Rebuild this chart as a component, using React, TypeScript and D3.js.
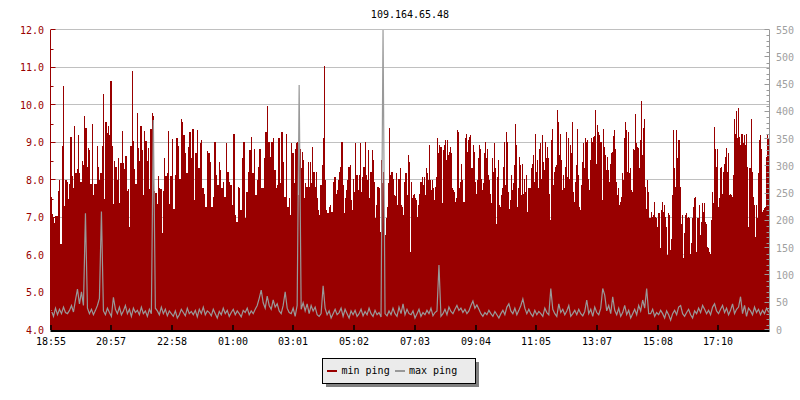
import React from 'react';
import * as d3 from 'd3';

const TITLE = '109.164.65.48';
const X_TICK_LABELS = ['18:55', '20:57', '22:58', '01:00', '03:01', '05:02', '07:03', '09:04', '11:05', '13:07', '15:08', '17:10'];
const X_TICK_STEP_MIN = 121.6;
const DAY_MINUTES = 1440;
const SEGMENT_MINUTES = 240;
const LEFT_MAJOR = [4, 5, 6, 7, 8, 9, 10, 11, 12];
const LEFT_MINOR = [4.5, 5.5, 6.5, 7.5, 8.5, 9.5, 10.5, 11.5];
const RIGHT_MAJOR = [0, 50, 100, 150, 200, 250, 300, 350, 400, 450, 500, 550];
const LEGEND = ['min ping', 'max ping'];

// min ping (ms, left axis), six consecutive 4-hour segments
const minPing1 = [7.55, 7.1, 7.0, 6.85, 7.05, 7.05, 7.7, 8.0, 6.3, 8.9, 10.5, 7.3, 8.0, 7.95, 7.5, 7.9, 9.15, 8.1, 7.8, 9.45, 8.2, 8.3, 9.2, 8.2, 7.95, 8.5, 8.4, 9.7, 9.4, 8.35, 8.85, 8.8, 7.9, 9.5, 7.6, 7.9, 7.9, 8.9, 8.35, 8.0, 8.2, 8.9, 10.3, 7.5, 9.55, 9.25, 9.45, 9.2, 10.65, 8.9, 7.35, 8.5, 8.35, 8.0, 8.6, 7.4, 8.45, 9.3, 8.45, 8.3, 8.65, 7.7, 7.75, 6.75, 8.9, 10.9, 9.05, 8.3, 7.9, 9.8, 8.85, 8.5, 9.45, 8.8, 7.6, 9.3, 9.05, 8.5, 8.85, 7.75, 9.35, 9.8, 9.7, 7.7, 7.65, 7.35, 8.1, 7.8, 7.75, 6.6, 7.7, 8.6, 8.1, 8.2, 9.3, 7.35];
const minPing2 = [8.1, 9.1, 7.24, 8.13, 9.11, 8.9, 8.04, 9.64, 9.56, 9.2, 8.71, 8.2, 8.89, 9.29, 8.58, 9.36, 7.47, 8.71, 9.33, 8.31, 8.98, 9.07, 7.78, 7.64, 7.29, 8.77, 8.71, 8.49, 7.29, 7.56, 9.02, 8.13, 7.87, 8.49, 8.27, 7.78, 7.96, 7.56, 8.98, 8.22, 7.96, 7.87, 7.33, 9.24, 7.07, 6.89, 7.82, 7.78, 7.2, 8.58, 9.02, 6.98, 7.69, 8.22, 8.8, 9.16, 8.18, 8.84, 7.6, 8.0, 8.36, 8.84, 7.78, 7.78, 8.58, 9.29, 9.98, 9.02, 8.62, 9.02, 9.11, 8.27, 7.78, 7.87, 9.11, 7.91, 9.29, 8.49, 7.56, 9.24, 7.29, 7.51];
const minPing3 = [7.07, 8.98, 8.71, 7.91, 8.84, 8.98, 9.02, 7.6, 8.84, 8.31, 8.75, 8.53, 7.51, 7.91, 7.82, 8.49, 7.82, 8.49, 7.91, 8.89, 8.22, 7.82, 8.22, 7.51, 7.2, 7.07, 7.87, 8.4, 9.11, 11.05, 8.0, 7.2, 7.11, 7.29, 7.33, 7.16, 7.16, 7.96, 8.09, 7.64, 7.73, 8.0, 8.22, 8.36, 9.02, 7.87, 7.11, 7.51, 7.73, 8.0, 8.36, 8.4, 7.47, 7.2, 8.04, 7.69, 8.98, 8.13, 7.73, 8.13, 8.98, 7.69, 8.09, 8.36, 9.02, 8.13, 8.0, 8.8, 7.51, 8.22, 8.8, 8.53, 7.96, 6.98, 7.33, 7.82, 7.78, 6.62, 8.53, 7.91, 8.22, 6.53, 6.98, 7.29, 7.91, 9.38, 8.13, 8.22, 8.04, 7.6, 7.58, 8.18, 7.33, 8.04, 8.31, 7.33, 7.29, 7.07, 7.96, 8.18, 7.6, 8.67, 8.49];
const minPing4 = [6.09, 7.96, 7.51, 7.6, 7.64, 7.51, 7.47, 7.02, 7.33, 7.64, 7.96, 7.96, 8.09, 7.87, 8.09, 7.6, 8.31, 8.18, 8.0, 8.93, 8.0, 7.73, 8.0, 7.78, 7.47, 7.82, 8.09, 9.11, 8.71, 8.93, 8.89, 8.89, 7.38, 8.8, 8.93, 9.07, 8.53, 9.07, 8.67, 8.75, 8.89, 8.71, 7.78, 7.73, 7.69, 7.42, 7.51, 9.33, 9.29, 7.78, 7.96, 8.44, 8.0, 7.42, 7.42, 9.11, 9.24, 8.75, 9.07, 9.16, 9.2, 8.31, 8.31, 8.93, 8.75, 7.96, 7.64, 8.0, 8.58, 8.93, 8.84, 8.04, 7.73, 7.91, 8.71, 9.02, 8.58, 8.84, 8.13, 8.0, 7.64, 7.38, 8.58, 8.22, 8.98, 8.31, 6.84, 8.09, 8.53, 7.33, 7.29, 7.6, 7.78, 8.36, 9.02, 7.87, 9.29, 9.02, 7.69, 7.24, 7.47, 8.13, 7.73, 7.91, 8.4, 9.49, 8.93, 7.29, 7.78, 8.62, 8.4, 7.6, 8.44, 7.64, 8.04, 7.69, 8.13, 7.16, 7.78, 7.78];
const minPing5 = [7.78, 8.31, 8.44, 8.67, 7.96, 9.24, 8.22, 8.53, 7.78, 8.82, 8.98, 8.04, 9.2, 8.49, 8.27, 9.02, 8.58, 8.89, 8.58, 7.64, 6.93, 9.07, 9.36, 7.87, 8.22, 8.36, 8.4, 9.87, 9.56, 8.67, 9.24, 8.53, 7.73, 8.13, 7.78, 8.36, 9.29, 8.09, 9.11, 8.04, 8.93, 8.71, 9.56, 7.69, 7.42, 7.96, 8.4, 9.36, 8.13, 7.29, 7.2, 7.87, 8.49, 8.98, 8.31, 9.11, 9.02, 9.07, 8.04, 7.73, 8.53, 9.11, 9.02, 9.16, 9.18, 9.87, 8.44, 9.47, 9.29, 9.2, 9.02, 9.02, 7.47, 9.36, 8.89, 8.67, 8.27, 8.62, 8.27, 7.96, 8.44, 8.71, 8.75, 9.17, 9.33, 8.84, 7.96, 7.6, 7.78, 7.33, 7.42, 7.56, 8.18, 8.0, 9.11, 9.56, 9.33, 8.22, 9.29, 8.18, 8.31, 7.73, 7.69, 8.84, 8.8, 9.75, 8.98, 8.89, 8.86, 8.31, 9.07, 10.1, 8.67, 9.38, 9.62, 7.82, 7.24, 8.0, 7.69, 6.98];
const minPing6 = [6.98, 7.16, 7.02, 7.07, 7.42, 7.02, 6.98, 6.76, 7.11, 7.11, 6.18, 7.2, 7.42, 7.16, 7.33, 7.02, 6.76, 6.0, 7.11, 7.07, 6.13, 6.44, 7.6, 9.33, 8.31, 7.82, 9.33, 8.58, 9.07, 9.07, 7.82, 6.84, 7.07, 5.91, 6.58, 7.07, 7.11, 6.98, 7.02, 6.98, 6.04, 6.31, 6.98, 7.29, 7.51, 7.56, 6.09, 6.98, 6.98, 7.33, 6.53, 6.89, 7.38, 7.16, 7.38, 6.89, 6.84, 6.22, 6.18, 6.09, 6.04, 6.93, 7.69, 7.38, 9.42, 8.84, 8.36, 8.84, 7.29, 7.51, 8.31, 8.36, 7.64, 8.22, 8.44, 8.62, 8.86, 8.22, 8.71, 7.6, 7.64, 7.6, 7.56, 8.13, 9.64, 9.24, 9.84, 9.11, 9.91, 9.16, 8.93, 9.22, 9.24, 8.98, 9.2, 8.93, 9.22, 8.36, 6.76, 8.31, 8.31, 9.64, 8.22, 7.56, 7.33, 6.49, 7.33, 6.98, 8.18, 9.07, 9.2, 8.84, 7.16, 7.2, 7.26, 7.29, 8.62, 9.2, 9.11];

// max ping (ms, right axis), same six segments
const maxPing1 = [35, 25, 40, 28, 38, 30, 42, 32, 30, 36, 45, 33, 55, 75, 48, 70, 45, 214, 40, 30, 38, 28, 36, 45, 58, 217, 35, 28, 40, 32, 25, 60, 38, 30, 42, 28, 35, 45, 30, 38, 25, 40, 32, 36, 28, 42, 30, 35, 25, 38, 30, 385, 40, 35, 28, 42, 30, 38, 26, 35];
const maxPing2 = [30, 25, 35, 22, 28, 38, 32, 26, 40, 30, 34, 28, 36, 24, 38, 30, 42, 28, 35, 32, 26, 38, 30, 22, 34, 28, 40, 30, 36, 25, 32, 38, 28, 35, 30, 24, 36, 32, 40, 28, 35, 30, 38, 45, 58, 73, 50, 40, 62, 45, 38, 55, 42, 48, 35, 30, 45, 70, 40, 32];
const maxPing3 = [30, 40, 25, 45, 449, 38, 50, 35, 48, 30, 45, 35, 42, 28, 25, 30, 81, 40, 28, 35, 22, 30, 38, 28, 32, 40, 25, 38, 30, 22, 35, 28, 36, 25, 30, 38, 26, 34, 28, 40, 30, 25, 36, 28, 32, 24, 550, 30, 26, 35, 28, 40, 30, 25, 42, 30, 48, 28, 38, 30];
const maxPing4 = [28, 35, 22, 30, 38, 25, 32, 28, 36, 30, 40, 26, 32, 35, 119, 25, 30, 38, 28, 42, 34, 30, 38, 45, 36, 40, 32, 38, 30, 35, 45, 53, 40, 46, 38, 30, 25, 32, 28, 36, 30, 25, 34, 28, 22, 30, 36, 28, 42, 48, 35, 30, 40, 28, 36, 45, 57, 40, 30, 38];
const maxPing5 = [30, 25, 36, 28, 34, 30, 25, 40, 32, 28, 76, 38, 30, 25, 48, 32, 38, 28, 35, 45, 25, 30, 36, 28, 38, 30, 26, 34, 55, 30, 38, 25, 42, 32, 28, 40, 76, 64, 35, 45, 30, 61, 36, 28, 40, 25, 32, 45, 28, 36, 22, 30, 38, 28, 45, 35, 55, 40, 76, 30];
const maxPing6 = [30, 38, 25, 32, 28, 36, 30, 22, 35, 28, 18, 30, 36, 28, 42, 45, 30, 25, 32, 38, 28, 22, 35, 30, 40, 32, 45, 38, 30, 36, 28, 42, 48, 35, 30, 38, 45, 32, 40, 28, 36, 48, 30, 38, 42, 61, 30, 45, 25, 40, 35, 28, 42, 32, 38, 28, 36, 30, 40, 33];

const MIN_SEGMENTS = [minPing1, minPing2, minPing3, minPing4, minPing5, minPing6];
const MAX_SEGMENTS = [maxPing1, maxPing2, maxPing3, maxPing4, maxPing5, maxPing6];

type Pt = { t: number; v: number };

function toPoints(segments: number[][]): Pt[] {
  const pts: Pt[] = [];
  segments.forEach((seg, k) => {
    seg.forEach((v, i) => {
      pts.push({ t: k * SEGMENT_MINUTES + ((i + 0.5) * SEGMENT_MINUTES) / seg.length, v });
    });
  });
  return [{ t: 0, v: pts[0].v }, ...pts, { t: DAY_MINUTES, v: pts[pts.length - 1].v }];
}

const FONT = '"DejaVu Sans Mono", monospace';
const RED = '#990000';
const GRAY = '#999999';

export default function App() {
  const left = 50.5;
  const right = 769.5;
  const top = 30;
  const bottom = 330;

  const x = d3.scaleLinear().domain([0, DAY_MINUTES]).range([left, right]);
  const yL = d3.scaleLinear().domain([4, 12]).range([bottom, top]);
  const yR = d3.scaleLinear().domain([0, 550]).range([bottom, top]);

  const minPts = toPoints(MIN_SEGMENTS);
  const maxPts = toPoints(MAX_SEGMENTS);

  const area = d3
    .area<Pt>()
    .x((d) => x(d.t))
    .y0(yL(4))
    .y1((d) => yL(d.v))
    .curve(d3.curveStep);
  const line = d3
    .line<Pt>()
    .x((d) => x(d.t))
    .y((d) => yR(d.v))
    .curve(d3.curveLinear);

  const fmt = d3.format('.1f');
  const rightMinor = d3.range(0, 551, 10).filter((v) => v % 50 !== 0);
  const crisp = (v: number) => Math.round(v) + 0.5;

  return (
    <svg
      width={800}
      height={400}
      style={{ position: 'absolute', left: 0, top: 0, background: '#fff' }}
      fontFamily={FONT}
      fontSize={10}
    >
      <rect x={0} y={0} width={800} height={400} fill="#fff" />
      <text x={(left + right) / 2} y={18} textAnchor="middle" fill="#000">
        {TITLE}
      </text>

      {/* grid */}
      {LEFT_MAJOR.filter((v) => v > 4).map((v) => (
        <line key={'g' + v} x1={left} x2={right} y1={crisp(yL(v)) - 1} y2={crisp(yL(v)) - 1} stroke="#c0c0c0" strokeWidth={1} />
      ))}

      {/* series */}
      <path d={area(minPts) || ''} fill={RED} shapeRendering="crispEdges" />
      <path d={line(maxPts) || ''} fill="none" stroke={GRAY} strokeWidth={1.2} strokeLinejoin="miter" />

      {/* left axis */}
      <line x1={left} x2={left} y1={top} y2={bottom} stroke={RED} />
      {LEFT_MAJOR.map((v) => (
        <g key={'l' + v}>
          <line x1={left} x2={left + 5} y1={crisp(yL(v)) - 1} y2={crisp(yL(v)) - 1} stroke={RED} />
          <text x={44} y={yL(v)} dy="0.35em" textAnchor="end" fill={RED}>
            {fmt(v)}
          </text>
        </g>
      ))}
      {LEFT_MINOR.map((v) => (
        <line key={'lm' + v} x1={left} x2={left + 3} y1={crisp(yL(v))} y2={crisp(yL(v))} stroke={RED} />
      ))}

      {/* right axis */}
      <line x1={right} x2={right} y1={top} y2={bottom} stroke={GRAY} />
      {RIGHT_MAJOR.map((v) => (
        <g key={'r' + v}>
          <line x1={right - 5} x2={right} y1={crisp(yR(v)) - 1} y2={crisp(yR(v)) - 1} stroke={GRAY} />
          <text x={776} y={yR(v)} dy="0.35em" textAnchor="start" fill="#a0a0a0">
            {v}
          </text>
        </g>
      ))}
      {rightMinor.map((v) => (
        <line key={'rm' + v} x1={right - 3} x2={right} y1={crisp(yR(v))} y2={crisp(yR(v))} stroke={GRAY} />
      ))}

      {/* bottom axis */}
      <line x1={left} x2={right} y1={bottom + 1} y2={bottom + 1} stroke="#000" strokeWidth={2} />
      {X_TICK_LABELS.map((lab, i) => {
        const xp = crisp(x(i * X_TICK_STEP_MIN)) - 0.5;
        return (
          <g key={'x' + i}>
            <line x1={xp} x2={xp} y1={bottom - 5} y2={bottom} stroke="#000" strokeWidth={1.5} />
            <text x={xp} y={345} textAnchor="middle" fill="#000">
              {lab}
            </text>
          </g>
        );
      })}

      {/* legend */}
      <rect x={326} y={362} width={153} height={25} fill="#808080" />
      <rect x={322.5} y={358.5} width={153} height={25} fill="#ebebeb" stroke="#000" />
      <rect x={327} y={370} width={10} height={2} fill={RED} />
      <text x={341.5} y={374} fill="#000">
        {LEGEND[0]}
      </text>
      <rect x={395} y={370} width={10} height={2} fill={GRAY} />
      <text x={409} y={374} fill="#000">
        {LEGEND[1]}
      </text>
    </svg>
  );
}
